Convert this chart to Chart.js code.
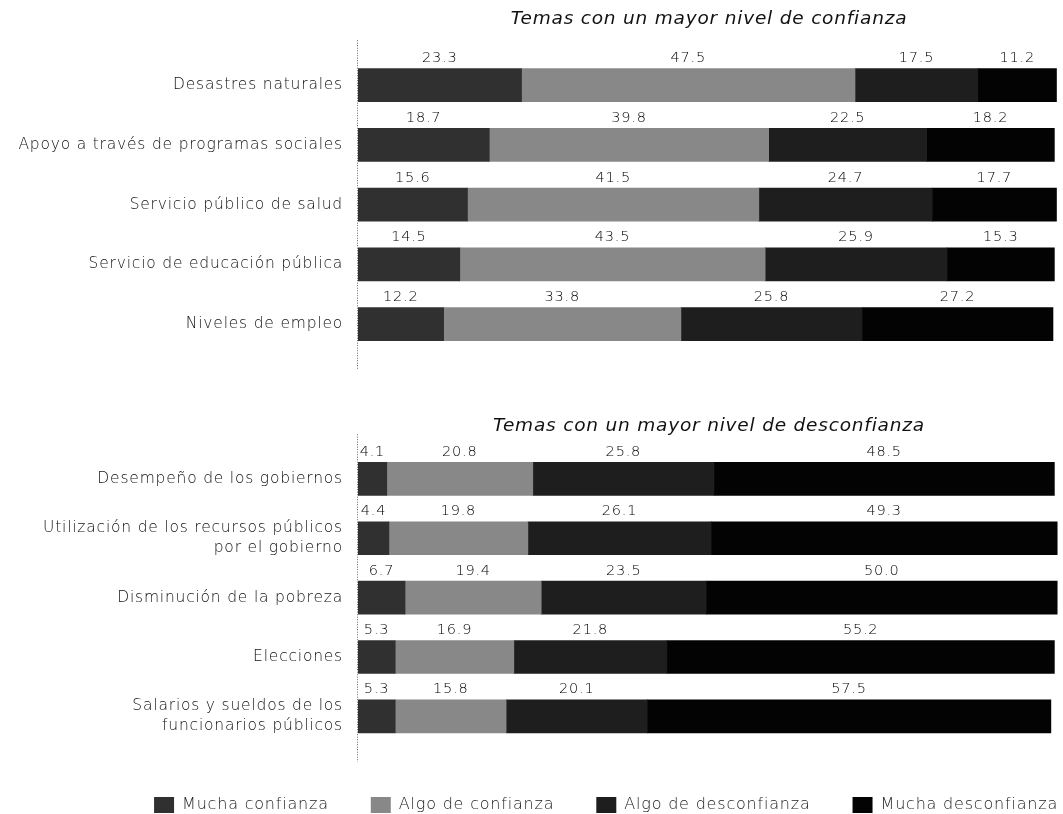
<!DOCTYPE html>
<html>
<head>
<meta charset="utf-8">
<script src="https://cdn.jsdelivr.net/npm/chart.js@4"></script>
<style>
  html, body { margin: 0; padding: 0; background: #fff; overflow: hidden; }
  .box { position: absolute; left: 0; }
  #top { top: 0; width: 1063px; height: 380px; }
  /* wider than the window so the right-aligned legend can end at the page edge */
  #bottom { top: 380px; width: 1103px; height: 447px; }
</style>
</head>
<body>
<div class="box" id="top"><canvas id="chartTop"></canvas></div>
<div class="box" id="bottom"><canvas id="chartBottom"></canvas></div>
<script>
// data
const seriesNames = ['Mucha confianza', 'Algo de confianza', 'Algo de desconfianza', 'Mucha desconfianza'];
const seriesColors = ['#303030', '#888888', '#1e1e1e', '#030303'];

const topTitle = 'Temas con un mayor nivel de confianza';
const topLabels = [
    'Desastres naturales',
    'Apoyo a través de programas sociales',
    'Servicio público de salud',
    'Servicio de educación pública',
    'Niveles de empleo'
];
const topMucha = [23.3, 18.7, 15.6, 14.5, 12.2];
const topAlgo = [47.5, 39.8, 41.5, 43.5, 33.8];
const topAlgoDes = [17.5, 22.5, 24.7, 25.9, 25.8];
const topMuchaDes = [11.2, 18.2, 17.7, 15.3, 27.2];

const bottomTitle = 'Temas con un mayor nivel de desconfianza';
const bottomLabels = [
    'Desempeño de los gobiernos',
    ['Utilización de los recursos públicos', 'por el gobierno'],
    'Disminución de la pobreza',
    'Elecciones',
    ['Salarios y sueldos de los', 'funcionarios públicos']
];
const bottomMucha = [4.1, 4.4, 6.7, 5.3, 5.3];
const bottomAlgo = [20.8, 19.8, 19.4, 16.9, 15.8];
const bottomAlgoDes = [25.8, 26.1, 23.5, 21.8, 20.1];
const bottomMuchaDes = [48.5, 49.3, 50.0, 55.2, 57.5];

const FONT = "'DejaVu Sans', sans-serif";
Chart.defaults.font.family = FONT;
Chart.defaults.font.weight = 200;
Chart.defaults.color = '#111';

// the original type is a wide geometric face, so space the letters out a bit
const wideText = {
    id: 'wideText',
    beforeUpdate(chart) { chart.ctx.letterSpacing = '0.8px'; },
    beforeDraw(chart) { chart.ctx.letterSpacing = '0.8px'; }
};

// draws the number above every segment
const valueLabels = {
    id: 'valueLabels',
    afterDatasetsDraw(chart) {
        const {ctx} = chart;
        ctx.save();
        ctx.font = '200 14.5px ' + FONT;
        ctx.fillStyle = '#000';
        ctx.textAlign = 'center';
        ctx.textBaseline = 'bottom';
        chart.data.datasets.forEach((ds, i) => {
            chart.getDatasetMeta(i).data.forEach((bar, j) => {
                const mid = (bar.base + bar.x) / 2;
                const top = bar.y - bar.height / 2;
                ctx.fillText(ds.data[j].toFixed(1), mid, top - 3);
            });
        });
        ctx.restore();
    }
};

// dotted axis line that runs a bit past the bars
const dottedAxis = {
    id: 'dottedAxis',
    beforeDatasetsDraw(chart, args, options) {
        const {ctx, chartArea} = chart;
        ctx.save();
        ctx.strokeStyle = '#666';
        ctx.lineWidth = 1;
        ctx.setLineDash([1, 1.5]);
        ctx.beginPath();
        ctx.moveTo(chartArea.left - 0.5, chartArea.top - options.above);
        ctx.lineTo(chartArea.left - 0.5, chartArea.bottom + options.below);
        ctx.stroke();
        ctx.restore();
    }
};

const makeDatasets = (a, b, c, d) => [a, b, c, d].map((vals, i) => ({
    label: seriesNames[i],
    data: vals,
    backgroundColor: seriesColors[i],
    borderWidth: 0,
    barThickness: 33
}));

const makeConfig = (labels, sets, title, withLegend) => ({
    type: 'bar',
    data: {labels: labels, datasets: sets},
    options: {
        indexAxis: 'y',
        responsive: true,
        maintainAspectRatio: false,
        animation: false,
        layout: {padding: {left: 0, right: 3, top: 0, bottom: withLegend ? 4 : 26}},
        scales: {
            x: {
                stacked: true,
                min: 0,
                max: 100,
                display: withLegend,
                grid: {display: false, drawTicks: false},
                border: {display: false},
                ticks: {display: false},
                afterFit: s => { if (s.options.display) s.height = 9; }
            },
            y: {
                stacked: true,
                grid: {display: false, drawTicks: false},
                border: {display: false},
                ticks: {
                    padding: 15,
                    color: '#111',
                    font: {size: 15.5, lineHeight: 1.3}
                },
                afterFit: s => { s.width = 358; }
            },
            // empty spacer on the right of the wider bottom canvas
            spacer: {
                type: 'linear',
                position: 'right',
                display: withLegend,
                grid: {display: false, drawTicks: false},
                border: {display: false},
                ticks: {display: false},
                afterFit: s => { if (s.options.display) s.width = 40; }
            }
        },
        plugins: {
            title: {
                display: true,
                text: title,
                fullSize: false,
                color: '#111',
                font: {size: 18.5, style: 'italic', weight: 200},
                padding: withLegend ? {top: 35, bottom: 12} : {top: 8, bottom: 25}
            },
            legend: {
                display: withLegend,
                position: 'bottom',
                align: 'end',
                labels: {
                    boxWidth: 20,
                    boxHeight: 16,
                    padding: 42,
                    color: '#222',
                    font: {size: 16}
                }
            },
            tooltip: {enabled: false},
            dottedAxis: {above: 15, below: 16}
        }
    },
    plugins: [wideText, valueLabels, dottedAxis]
});

const chartTop = new Chart(
    document.getElementById('chartTop'),
    makeConfig(topLabels, makeDatasets(topMucha, topAlgo, topAlgoDes, topMuchaDes), topTitle, false)
);

const chartBottom = new Chart(
    document.getElementById('chartBottom'),
    makeConfig(bottomLabels, makeDatasets(bottomMucha, bottomAlgo, bottomAlgoDes, bottomMuchaDes), bottomTitle, true)
);
</script>
</body>
</html>
